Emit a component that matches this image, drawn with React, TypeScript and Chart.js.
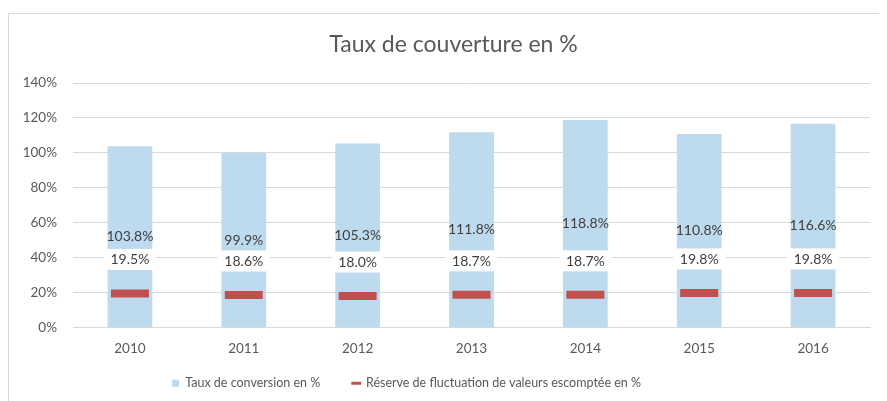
import { useEffect, useRef } from 'react';
import { Chart, registerables } from 'chart.js';

Chart.register(...registerables);

const FONT = 'Lato';

const years = ['2010', '2011', '2012', '2013', '2014', '2015', '2016'];
const conversionRates = [103.8, 99.9, 105.3, 111.8, 118.8, 110.8, 116.6];
const reserveRates = [19.5, 18.6, 18.0, 18.7, 18.7, 19.8, 19.8];
const yMin = 0;
const yMax = 140;
const yStep = 20;
const chartTitle = 'Taux de couverture en %';
const legendNames = ['Taux de conversion en %', 'Réserve de fluctuation de valeurs escomptée en %'];

const BLUE = 'rgb(190,218,239)';
const RED = '#c0504d';
const TEXT = '#595959';
const LABEL = '#404040';

const labelPlugin = {
  id: 'valueLabels',
  afterDatasetsDraw(chart: any) {
    const ctx = chart.ctx;
    ctx.save();
    ctx.font = `14px ${FONT}`;
    ctx.textAlign = 'center';
    ctx.textBaseline = 'middle';
    const barMeta = chart.getDatasetMeta(0);
    barMeta.data.forEach((bar: any, i: number) => {
      const v = chart.data.datasets[0].data[i] as number;
      ctx.fillStyle = LABEL;
      ctx.fillText(v.toFixed(1) + '%', bar.x, (bar.y + bar.base) / 2);
    });
    const lineMeta = chart.getDatasetMeta(1);
    lineMeta.data.forEach((pt: any, i: number) => {
      const v = chart.data.datasets[1].data[i] as number;
      const cy = pt.y - 34;
      ctx.fillStyle = '#ffffff';
      ctx.fillRect(pt.x - 26, cy - 10.5, 52, 21);
      ctx.fillStyle = LABEL;
      ctx.fillText(v.toFixed(1) + '%', pt.x, cy + 0.5);
    });
    ctx.restore();
  },
};

export default function App() {
  const ref = useRef<HTMLCanvasElement | null>(null);
  useEffect(() => {
    if (!ref.current) return;
    const chart = new Chart(ref.current, {
      type: 'bar',
      data: {
        labels: years,
        datasets: [
          {
            type: 'bar',
            label: legendNames[0],
            data: conversionRates,
            backgroundColor: BLUE,
            borderWidth: 0,
            categoryPercentage: 1,
            barPercentage: 0.393,
            order: 2,
          },
          {
            type: 'line',
            label: legendNames[1],
            data: reserveRates,
            showLine: false,
            pointStyle: 'line',
            pointRadius: 19,
            pointHoverRadius: 19,
            pointBorderWidth: 8,
            borderColor: RED,
            backgroundColor: RED,
            order: 1,
          },
        ],
      } as any,
      options: {
        responsive: false,
        animation: false,
        layout: { padding: { left: 0, right: 22.5, top: 0, bottom: 14.5 } },
        plugins: {
          tooltip: { enabled: false },
          title: {
            display: true,
            text: ' '.repeat(4) + chartTitle,
            color: TEXT,
            font: { family: FONT, size: 23, weight: 'normal' as any },
            padding: { top: 17, bottom: 24.4 },
          },
          legend: {
            position: 'bottom',
            labels: {
              color: TEXT,
              font: { family: FONT, size: 12.5 },
              usePointStyle: true,
              boxWidth: 7,
              boxHeight: 7,
              padding: 10,
              generateLabels: () => [
                {
                  text: legendNames[0] + ' '.repeat(7),
                  fillStyle: BLUE,
                  strokeStyle: BLUE,
                  lineWidth: 0,
                  pointStyle: 'rect',
                  hidden: false,
                  datasetIndex: 0,
                  fontColor: TEXT,
                } as any,
                {
                  text: legendNames[1] + ' '.repeat(22),
                  fillStyle: RED,
                  strokeStyle: RED,
                  lineWidth: 3,
                  pointStyle: 'line',
                  hidden: false,
                  datasetIndex: 1,
                  fontColor: TEXT,
                } as any,
              ],
            },
          },
        },
        scales: {
          x: {
            grid: { display: false, drawTicks: false },
            border: { display: true, color: '#d9d9d9' },
            ticks: { color: TEXT, font: { family: FONT, size: 13.5 }, padding: 13 },
            afterFit: (s: any) => {
              s.height = 39.5;
            },
          },
          y: {
            min: yMin,
            max: yMax,
            grid: { color: '#d9d9d9', drawTicks: false },
            border: { display: false },
            ticks: {
              stepSize: yStep,
              color: TEXT,
              font: { family: FONT, size: 13.5 },
              padding: 16,
              callback: (v: any) => v + '%',
            },
            afterFit: (s: any) => {
              s.width = 64;
            },
          },
        },
      } as any,
      plugins: [labelPlugin],
    });
    return () => chart.destroy();
  }, []);

  return (
    <div style={{ width: 879, height: 393, overflow: 'hidden', position: 'relative' }}>
      <div
        style={{
          position: 'absolute',
          top: 5,
          left: 0,
          width: 900,
          height: 400,
          border: '1px solid #d9d9d9',
          background: '#fff',
        }}
      >
        <canvas ref={ref} width={888} height={400} style={{ display: 'block', width: 888, height: 400 }} />
      </div>
    </div>
  );
}
